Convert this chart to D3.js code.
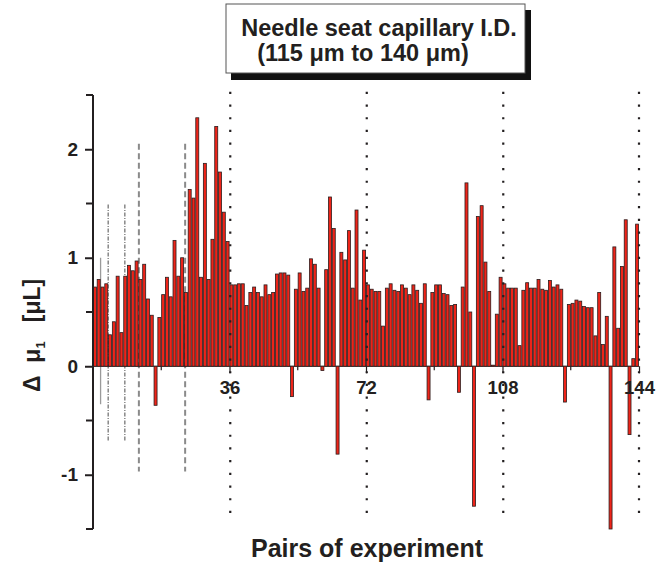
<!DOCTYPE html>
<html>
<head>
<meta charset="utf-8">
<script src="https://cdn.jsdelivr.net/npm/d3@7"></script>
<style>
  html, body { margin: 0; padding: 0; background: #fff; }
  svg { display: block; }
  text { font-family: "Liberation Sans", Arial, Helvetica, sans-serif; font-weight: bold; fill: #231f20; }
</style>
</head>
<body>
<svg id="chart" width="666" height="564"></svg>
<script>
// ---- data ----
const pairs = d3.range(1, 145);
const deltaMu = [
  0.73, 0.80, 0.73, 0.76, 0.29, 0.41, 0.83, 0.31, 0.83, 0.93,
  0.88, 0.97, 0.80, 0.94, 0.62, 0.47, -0.36, 0.45, 0.66, 0.82,
  0.64, 1.16, 0.83, 1.00, 0.68, 1.63, 1.55, 2.29, 0.82, 1.87,
  0.80, 1.17, 2.21, 1.79, 1.42, 1.15, 0.75, 0.75, 0.76, 0.76,
  0.56, 0.68, 0.73, 0.68, 0.64, 0.75, 0.66, 0.68, 0.85, 0.86,
  0.86, 0.84, -0.28, 0.71, 0.86, 0.69, 0.72, 0.99, 0.94, 0.72,
  -0.04, 0.89, 1.56, 1.27, -0.81, 1.05, 0.98, 1.25, 0.72, 1.44,
  0.61, 1.07, 0.75, 0.71, 0.69, 0.69, 0.37, 0.72, 0.76, 0.70,
  0.69, 0.75, 0.72, 0.66, 0.75, 0.70, 0.58, 0.76, -0.31, 0.68,
  0.75, 0.75, 0.67, 0.66, 0.56, 0.57, -0.24, 0.73, 1.69, 0.50,
  -1.29, 1.38, 1.48, 0.96, 0.69, 0.01, 0.48, 0.82, 0.76, 0.72,
  0.72, 0.72, 0.19, 0.70, 0.77, 0.72, 0.72, 0.80, 0.71, 0.70,
  0.79, 0.73, 0.75, 0.71, -0.33, 0.57, 0.58, 0.61, 0.60, 0.55,
  0.54, 0.54, 0.28, 0.68, 0.20, 0.46, -1.50, 1.10, 0.35, 0.92,
  1.35, -0.63, 0.07, 1.31
];
const xMajorTicks = [36, 72, 108, 144];
const xMinorTicks = [18, 54, 90, 126];
const yMajorTicks = [-1, 0, 1, 2];
const yMinorTicks = [-1.5, -0.5, 0.5, 1.5, 2.5];
// reference lines: [x, top value, bottom value]
const solidLines = [[2, 1.0, -0.35]];
const dashDotLines = [[4, 1.49, -0.69], [8.4, 1.49, -0.69]];
const dashedLines = [[12.1, 2.05, -0.97], [24.3, 2.05, -0.97]];
const dottedLines = [[36.2, 2.53, -1.44], [72.2, 2.53, -1.44], [108.2, 2.53, -1.44], [144, 2.53, -1.44]];
const titleLines = ["Needle seat capillary I.D.", "(115 \u03BCm to 140 \u03BCm)"];
const xTitle = "Pairs of experiment";

// ---- layout ----
const svg = d3.select("#chart");
const x = d3.scaleLinear().domain([0, 144]).range([93, 639]);
const y = d3.scaleLinear().domain([-1.5, 2.5]).range([529, 95]);

// reference lines (behind bars)
const refG = svg.append("g");
function vlines(data, color, width, dash) {
  refG.selectAll(null).data(data).enter().append("line")
    .attr("x1", d => x(d[0])).attr("x2", d => x(d[0]))
    .attr("y1", d => y(d[1])).attr("y2", d => y(d[2]))
    .attr("stroke", color).attr("stroke-width", width)
    .attr("stroke-dasharray", dash);
}
vlines(solidLines, "#9a9a9a", 1.3, null);
vlines(dashDotLines, "#6a6a6a", 1.2, "4,1.5,1,1.5");
vlines(dashedLines, "#8a8a8a", 2, "6,3.5");

// x axis baseline
svg.append("line")
  .attr("x1", x(0)).attr("x2", x(144))
  .attr("y1", y(0)).attr("y2", y(0))
  .attr("stroke", "#231f20").attr("stroke-width", 1.2);

// bars
svg.append("g").selectAll("rect").data(deltaMu).enter().append("rect")
  .attr("x", (d, i) => x(pairs[i] - 1) + 0.4)
  .attr("width", (d, i) => x(pairs[i]) - x(pairs[i] - 1) - 0.8)
  .attr("y", d => y(Math.max(0, d)))
  .attr("height", d => Math.abs(y(d) - y(0)))
  .attr("fill", "#ee2419")
  .attr("stroke", "#2b1d1d")
  .attr("stroke-width", 0.8);

// dotted lines on top
const dotG = svg.append("g");
dotG.selectAll(null).data(dottedLines).enter().append("line")
  .attr("x1", d => x(d[0])).attr("x2", d => x(d[0]))
  .attr("y1", d => y(d[1])).attr("y2", d => y(d[2]))
  .attr("stroke", "#231f20").attr("stroke-width", 2.2)
  .attr("stroke-dasharray", "2.2,10.5");

// y axis
const yAxis = svg.append("g").attr("transform", `translate(${x(0)},0)`)
  .call(d3.axisLeft(y).tickValues(yMajorTicks).tickSize(8).tickPadding(7).tickFormat(d => String(d)));
yAxis.select(".domain").attr("stroke", "#231f20").attr("stroke-width", 2).attr("d", `M0,${y(2.5)}V${y(-1.5)}`);
yAxis.selectAll(".tick line").attr("stroke", "#231f20").attr("stroke-width", 2);
yAxis.selectAll(".tick text").attr("font-size", 19).attr("font-family", null).attr("fill", "#231f20");
svg.append("g").selectAll("line").data(yMinorTicks).enter().append("line")
  .attr("x1", x(0) - 7).attr("x2", x(0))
  .attr("y1", d => y(d)).attr("y2", d => y(d))
  .attr("stroke", "#231f20").attr("stroke-width", 2);

// x axis
const xAxis = svg.append("g").attr("transform", `translate(0,${y(0)})`)
  .call(d3.axisBottom(x).tickValues(xMajorTicks).tickSize(7).tickPadding(8).tickFormat(d => String(d)));
xAxis.select(".domain").remove();
xAxis.selectAll(".tick line").attr("stroke", "#231f20").attr("stroke-width", 1.2);
xAxis.selectAll(".tick text").attr("font-size", 18.5).attr("font-family", null).attr("fill", "#231f20");
svg.append("g").selectAll("line").data(xMinorTicks).enter().append("line")
  .attr("x1", d => x(d)).attr("x2", d => x(d))
  .attr("y1", y(0)).attr("y2", y(0) + 4)
  .attr("stroke", "#231f20").attr("stroke-width", 1.2);

// x title
svg.append("text").attr("x", 367).attr("y", 557).attr("text-anchor", "middle")
  .attr("font-size", 25).text(xTitle);

// y title
const yt = svg.append("text").attr("transform", "translate(40,392) rotate(-90)")
  .attr("text-anchor", "start").attr("font-size", 23).style("white-space", "pre");
yt.append("tspan").text("\u0394  \u03BC");
yt.append("tspan").attr("font-size", 13).attr("dy", 5).text("1");
yt.append("tspan").attr("dy", -5).text("   [\u03BCL]");

// title box
svg.append("rect").attr("x", 231).attr("y", 10).attr("width", 300).attr("height", 70).attr("fill", "#111");
svg.append("rect").attr("x", 226).attr("y", 4).attr("width", 299).attr("height", 69)
  .attr("fill", "#fff").attr("stroke", "#555").attr("stroke-width", 1);
svg.append("text").attr("x", 379).attr("y", 36).attr("text-anchor", "middle").attr("font-size", 23.5).text(titleLines[0]);
svg.append("text").attr("x", 363).attr("y", 61).attr("text-anchor", "middle").attr("font-size", 23.5).text(titleLines[1]);
</script>
</body>
</html>
